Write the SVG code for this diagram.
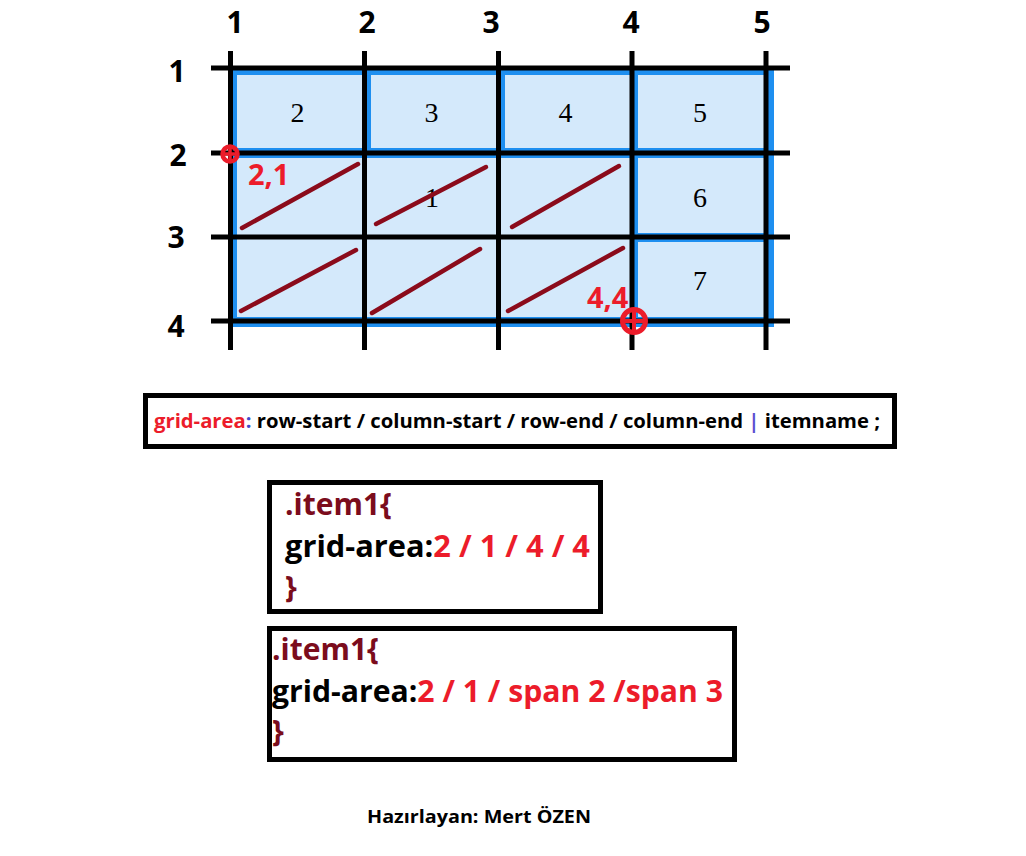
<svg xmlns="http://www.w3.org/2000/svg" width="1026" height="856" viewBox="0 0 1026 856">
<style>
.hdr{font-family:"Open Sans","Liberation Sans",sans-serif;font-weight:bold;font-size:30px;fill:#000;text-anchor:middle}
.num{font-family:"Liberation Serif",serif;font-size:28px;fill:#000;text-anchor:middle}
.cell{fill:#d4e9fb}
.gl{stroke:#000;stroke-width:5;fill:none}
.diag{stroke:#8b0b1b;stroke-width:4.5;stroke-linecap:round}
.mk{stroke:#ec1c2a;fill:none}
.lbl{font-family:"Open Sans","Liberation Sans",sans-serif;font-weight:bold;font-size:29px;fill:#ec1c2a}
.code{font-family:"Open Sans","Liberation Sans",sans-serif;font-weight:bold;font-size:30px}
.box{fill:#fff;stroke:#000;stroke-width:5}
.red{fill:#ec1c2a}
.dr{fill:#7b0c1c}
.blk{fill:#000}
</style>
<rect width="1026" height="856" fill="#fff"/>
<g id="grid">
<rect x="228" y="66" width="546" height="261" fill="#1e8ff0"/>
<rect class="cell" x="237" y="75" width="125" height="73"/>
<rect class="cell" x="371" y="75" width="125" height="73"/>
<rect class="cell" x="505" y="75" width="125" height="73"/>
<rect class="cell" x="638" y="75" width="126" height="73"/>
<rect class="cell" x="237" y="158" width="393" height="159"/>
<rect class="cell" x="638" y="158" width="126" height="75"/>
<rect class="cell" x="638" y="242" width="126" height="75"/>
</g>
<g id="gridlines">
<line class="gl" x1="230.5" y1="51" x2="230.5" y2="350"/>
<line class="gl" x1="364.5" y1="51" x2="364.5" y2="350"/>
<line class="gl" x1="498.5" y1="51" x2="498.5" y2="350"/>
<line class="gl" x1="632" y1="51" x2="632" y2="350"/>
<line class="gl" x1="766" y1="51" x2="766" y2="350"/>
<line class="gl" x1="211" y1="68" x2="790" y2="68"/>
<line class="gl" x1="211" y1="153" x2="790" y2="153"/>
<line class="gl" x1="211" y1="237" x2="790" y2="237"/>
<line class="gl" x1="211" y1="321" x2="790" y2="321"/>
</g>
<g id="headers">
<text class="hdr" x="235" y="33">1</text>
<text class="hdr" x="367" y="33">2</text>
<text class="hdr" x="491" y="33">3</text>
<text class="hdr" x="631" y="33">4</text>
<text class="hdr" x="762" y="33">5</text>
<text class="hdr" x="177" y="82">1</text>
<text class="hdr" x="178" y="166">2</text>
<text class="hdr" x="176" y="248">3</text>
<text class="hdr" x="176" y="337">4</text>
</g>
<g id="cells">
<text class="num" x="297.5" y="122">2</text>
<text class="num" x="431.5" y="122">3</text>
<text class="num" x="565.5" y="122">4</text>
<text class="num" x="700" y="122">5</text>
<text class="num" x="432" y="207">1</text>
<text class="num" x="700" y="207">6</text>
<text class="num" x="700" y="290">7</text>
</g>
<g id="diagonals">
<line class="diag" x1="242" y1="228" x2="358" y2="164"/>
<line class="diag" x1="376" y1="224" x2="486" y2="167"/>
<line class="diag" x1="512" y1="227" x2="619" y2="166"/>
<line class="diag" x1="241" y1="311" x2="356" y2="250"/>
<line class="diag" x1="372" y1="313" x2="480" y2="249"/>
<line class="diag" x1="508" y1="311" x2="623" y2="248"/>
</g>
<g id="markers">
<circle class="mk" cx="230" cy="154" r="7.5" stroke-width="4.5"/>
<line class="mk" x1="221" y1="154" x2="239" y2="154" stroke-width="3.5"/>
<line class="mk" x1="230" y1="145" x2="230" y2="163" stroke-width="3.5"/>
<circle class="mk" cx="634" cy="321" r="11.5" stroke-width="5"/>
<line class="mk" x1="621" y1="321" x2="647" y2="321" stroke-width="4"/>
<line class="mk" x1="634" y1="308" x2="634" y2="334" stroke-width="4"/>
<text class="lbl" x="248" y="185">2,1</text>
<text class="lbl" x="587" y="308">4,4</text>
</g>
<g id="syntax">
<rect class="box" x="145.5" y="395.5" width="749" height="51"/>
<text x="154" y="428" font-family="Open Sans, Liberation Sans, sans-serif" font-weight="bold" font-size="20" textLength="726" lengthAdjust="spacingAndGlyphs"><tspan fill="#ec1c2a">grid-area</tspan><tspan fill="#3f48cc">:</tspan><tspan fill="#000"> row-start / column-start / row-end / column-end </tspan><tspan fill="#5b4fd1">|</tspan><tspan fill="#000"> itemname ;</tspan></text>
</g>
<g id="example1">
<rect class="box" x="269.5" y="482.5" width="331" height="129"/>
<text class="code dr" x="285" y="515">.item1{</text>
<text class="code" x="285" y="557" textLength="305" lengthAdjust="spacingAndGlyphs"><tspan class="blk">grid-area:</tspan><tspan class="red">2 / 1 / 4 / 4</tspan></text>
<text class="code dr" x="285" y="598">}</text>
</g>
<g id="example2">
<rect class="box" x="269.5" y="628.5" width="465" height="131"/>
<text class="code dr" x="272" y="660">.item1{</text>
<text class="code" x="272" y="702" textLength="451" lengthAdjust="spacingAndGlyphs"><tspan class="blk">grid-area:</tspan><tspan class="red">2 / 1 / span 2 /span 3</tspan></text>
<text class="code dr" x="272" y="742">}</text>
</g>
<g id="footer">
<text x="367" y="823" font-family="Open Sans, Liberation Sans, sans-serif" font-weight="bold" font-size="18" fill="#000" textLength="224" lengthAdjust="spacingAndGlyphs">Hazırlayan: Mert ÖZEN</text>
</g>
</svg>
